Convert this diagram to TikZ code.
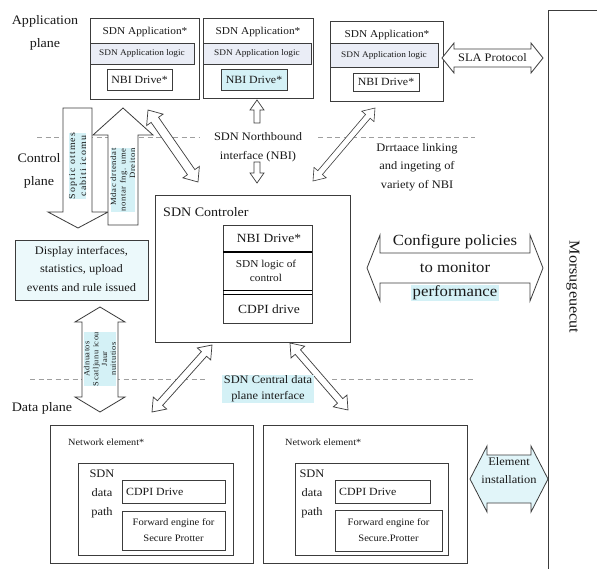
\documentclass[tikz,border=0pt]{standalone}
\usepackage{fontspec}
\setmainfont[FakeStretch=1.08]{Liberation Serif}
\usetikzlibrary{calc}
\definecolor{hl}{RGB}{212,241,246}
\definecolor{band}{RGB}{234,237,246}
\definecolor{ln}{RGB}{60,60,60}
\definecolor{txtc}{RGB}{25,25,25}
\newcommand\fsz[2]{\fontsize{#1}{#2}\selectfont}
% [opts]{name}{x1}{y1}{x2}{y2}
\newcommand\rbox[6][]{\node[box,minimum width={(#5-#3)*1pt},minimum height={(#6-#4)*1pt},#1] (#2) at (#3,#4) {};}
% [opts]{A}{B}{headlen}{shafthalf}{headhalf}
\newcommand\dblarr[6][]{%
  \coordinate (ha) at ($(#2)!#4!(#3)$);
  \coordinate (hb) at ($(#3)!#4!(#2)$);
  \draw[blk,#1] (#2) -- ($(ha)!#6!90:(#3)$) -- ($(ha)!#5!90:(#3)$) -- ($(hb)!#5!-90:(#2)$) -- ($(hb)!#6!-90:(#2)$) -- (#3)
   -- ($(hb)!#6!90:(#2)$) -- ($(hb)!#5!90:(#2)$) -- ($(ha)!#5!-90:(#3)$) -- ($(ha)!#6!-90:(#3)$) -- cycle;}
\begin{document}
\begin{tikzpicture}[x=1pt,y=-1pt,
  box/.style={draw=ln,line width=0.8pt,fill=white,inner sep=0pt,outer sep=0pt,anchor=north west},
  txt/.style={inner sep=0pt,align=center,text=txtc},
  blk/.style={draw=ln,line width=0.8pt,fill=white,line join=miter},
  dsh/.style={draw=gray!75,line width=0.8pt,dash pattern=on 5pt off 3.5pt}]
\useasboundingbox[fill=white] (0,0) rectangle (597,569);

% ---------- dashed plane separators ----------
\coordinate (d1a) at (37,137); \coordinate (d1b) at (200,137);
\coordinate (d1c) at (318,137); \coordinate (d1d) at (475,137);
\coordinate (d2a) at (30,379); \coordinate (d2b) at (206,379);
\coordinate (d2c) at (332,379); \coordinate (d2d) at (475,379);
\draw[dsh] (d1a) -- (d1b); \draw[dsh] (d1c) -- (d1d);
\draw[dsh] (d2a) -- (d2b); \draw[dsh] (d2c) -- (d2d);

% ---------- management frame ----------
\rbox{mgmt}{548}{10}{610}{580}
\node[txt,rotate=-90,font=\fsz{15}{18}] (mgmtt) at (573,287) {Morsugeuecut};

% ---------- plane labels ----------
\node[txt,font=\fsz{13}{23}] (appl) at (45,33) {Application\\plane};
\node[txt,font=\fsz{13}{23}] (ctrl) at (39,171) {Control\\plane};
\node[txt,font=\fsz{13}{16}] (datal) at (42,408) {Data plane};

% ---------- application boxes ----------
\rbox{app1}{90}{18}{199}{99}
\node[txt,font=\fsz{10.5}{12}] (app1t) at (145,32) {SDN Application*};
\rbox[fill=band]{app1l}{90}{43}{194}{64}
\node[txt,font=\fsz{8.6}{10}] (app1lt) at (142,53.5) {SDN Application logic};
\rbox{app1n}{107}{69}{172}{90}
\node[txt,font=\fsz{11}{12}] (app1nt) at (139.5,79.5) {NBI Drive*};

\rbox{app2}{203}{18}{313}{98}
\node[txt,font=\fsz{10.5}{12}] (app2t) at (258,32) {SDN Application*};
\rbox[fill=band]{app2l}{203}{43}{311}{64}
\node[txt,font=\fsz{8.6}{10}] (app2lt) at (257,53.5) {SDN Application logic};
\rbox[fill=hl]{app2n}{221}{69}{287}{90}
\node[txt,font=\fsz{11}{12}] (app2nt) at (254,79.5) {NBI Drive*};

\rbox{app3}{330}{21}{443}{101}
\node[txt,font=\fsz{10.5}{12}] (app3t) at (387,35) {SDN Application*};
\rbox[fill=band]{app3l}{330}{43}{438}{67}
\node[txt,font=\fsz{8.6}{10}] (app3lt) at (384,55) {SDN Application logic};
\rbox{app3n}{353}{73}{419}{91}
\node[txt,font=\fsz{11}{12}] (app3nt) at (386,82) {NBI Drive*};

% SLA protocol arrow
\coordinate (slaA) at (442,58); \coordinate (slaB) at (543,58);
\dblarr{slaA}{slaB}{12pt}{9pt}{15pt}
\node[txt,font=\fsz{11.5}{13}] (slat) at (492.5,58) {SLA Protocol};

% ---------- control plane block arrows ----------
\draw[blk] (63,108) -- (92,108) -- (92,212) -- (108,212) -- (78,228) -- (48,212) -- (63,212) -- cycle;
\node[txt,rotate=90,fill=hl,font=\fsz{9.2}{11}\addfontfeature{LetterSpace=12}] (dtxt) at (77.5,166) {Soptic ottmes\\cabiti icomu};
\draw[blk] (108,225) -- (108,135) -- (93,135) -- (123,108) -- (153,135) -- (138,135) -- (138,225) -- cycle;
\node[txt,rotate=90,fill=hl,font=\fsz{8}{9.5}\addfontfeature{LetterSpace=8},align=right] (utxt) at (123,180) {Mdac drtendat\\nontar fng. ume\\Dreiton};

% display box
\rbox[fill=hl!45]{disp}{15}{240}{148}{300}
\node[txt,font=\fsz{11.5}{18.5}] (dispt) at (81.5,269) {Display interfaces,\\statistics, upload\\events and rule issued};

% lower vertical double arrow
\draw[blk] (100,307) -- (125,322) -- (118,322) -- (118,397) -- (125,397) -- (100,412) -- (75,397) -- (82,397) -- (82,322) -- (75,322) -- cycle;
\node[txt,rotate=90,fill=hl,font=\fsz{7.8}{8.8}\addfontfeature{LetterSpace=6}] (ltxt) at (100,359) {Adnuatos\\Scatljunu icou\\Jaur\\nuitutios};

% ---------- NBI labels and arrows ----------
\node[txt,font=\fsz{11.5}{19}] (nbit) at (258,147) {SDN Northbound\\interface (NBI)};
\draw[blk,line width=0.7pt] (257,100) -- (264,110) -- (260,110) -- (260,123) -- (254,123) -- (254,110) -- (250,110) -- cycle;
\draw[blk,line width=0.7pt] (257,183) -- (264,173) -- (260,173) -- (260,162) -- (254,162) -- (254,173) -- (250,173) -- cycle;
\node[txt,font=\fsz{11.5}{18.5}] (drrt) at (417,167) {Drrtaace linking\\and ingeting of\\variety of NBI};

% diagonal arrows
\coordinate (u1a) at (148,110); \coordinate (u1b) at (198,182);
\dblarr[line width=0.7pt]{u1a}{u1b}{12pt}{4.5pt}{10pt}
\coordinate (u2a) at (375,108); \coordinate (u2b) at (313,181);
\dblarr[line width=0.6pt]{u2a}{u2b}{11pt}{3pt}{8pt}

% ---------- controller ----------
\rbox{ctl}{155}{195}{350}{342}
\node[txt,font=\fsz{13}{15},anchor=west] (ctlt) at (163,212) {SDN Controler};
\rbox{stack}{223}{225}{312}{323}
\draw[line width=2.6pt,draw=black] (223,252) -- (312,252);
\draw[line width=0.6pt] (223,290.5) -- (312,290.5);
\draw[line width=0.6pt] (223,294) -- (312,294);
\node[txt,font=\fsz{12.5}{14}] (ctln) at (269,238) {NBI Drive*};
\node[txt,font=\fsz{10.5}{14}] (ctll) at (266,271) {SDN logic of\\control};
\node[txt,font=\fsz{12.5}{14}] (ctlc) at (269,309) {CDPI drive};

% configure policies arrow
\coordinate (cfA) at (367,268); \coordinate (cfB) at (543,268);
\dblarr{cfA}{cfB}{13pt}{15pt}{33pt}
\node[txt,font=\fsz{15.5}{25.5}] (cft1) at (455,242) {Configure policies};
\node[txt,font=\fsz{15.5}{25.5}] (cft2) at (455,267) {to monitor};
\node[txt,font=\fsz{15.5}{25.5},fill=hl,inner xsep=2pt,inner ysep=1pt] (cft3) at (455,293) {performance};

% ---------- data plane ----------
\coordinate (l1a) at (212,345); \coordinate (l1b) at (152,412);
\dblarr[line width=0.7pt]{l1a}{l1b}{12pt}{3.5pt}{9pt}
\coordinate (l2a) at (290,343); \coordinate (l2b) at (348,410);
\dblarr[line width=0.7pt]{l2a}{l2b}{12pt}{3.5pt}{9pt}
\node[txt,font=\fsz{11.5}{16},fill=hl,inner xsep=2pt,inner ysep=1pt] (cdpt) at (268,389) {SDN Central data\\plane interface};

% network elements
\rbox{ne1}{50}{425}{253}{563}
\node[txt,font=\fsz{9.5}{11},anchor=west] (ne1t) at (68,442) {Network element*};
\rbox{ne1i}{78}{463}{233}{555}
\node[txt,font=\fsz{11.5}{19}] (ne1p) at (102,494) {SDN\\data\\path};
\rbox{ne1c}{122}{480}{225}{503}
\node[txt,font=\fsz{11}{13},anchor=west] (ne1ct) at (126,491.5) {CDPI Drive};
\rbox{ne1f}{122}{511}{225}{550}
\node[txt,font=\fsz{9.8}{16}] (ne1ft) at (173.5,530.5) {Forward engine for\\Secure Protter};

\rbox{ne2}{263}{425}{467}{563}
\node[txt,font=\fsz{9.5}{11},anchor=west] (ne2t) at (285,442) {Network element*};
\rbox{ne2i}{295}{463}{448}{555}
\node[txt,font=\fsz{11.5}{19}] (ne2p) at (312,494) {SDN\\data\\path};
\rbox{ne2c}{335}{480}{430}{503}
\node[txt,font=\fsz{11}{13},anchor=west] (ne2ct) at (339,491.5) {CDPI Drive};
\rbox{ne2f}{335}{510}{442}{551}
\node[txt,font=\fsz{9.8}{16}] (ne2ft) at (388.5,530.5) {Forward engine for\\Secure.Protter};

% element installation arrow
\coordinate (elA) at (470,479); \coordinate (elB) at (548,479);
\dblarr[fill=hl!70]{elA}{elB}{17pt}{24pt}{33pt}
\node[txt,font=\fsz{11.5}{18}] (elt) at (509,471) {Element\\installation};
\end{tikzpicture}
\end{document}
